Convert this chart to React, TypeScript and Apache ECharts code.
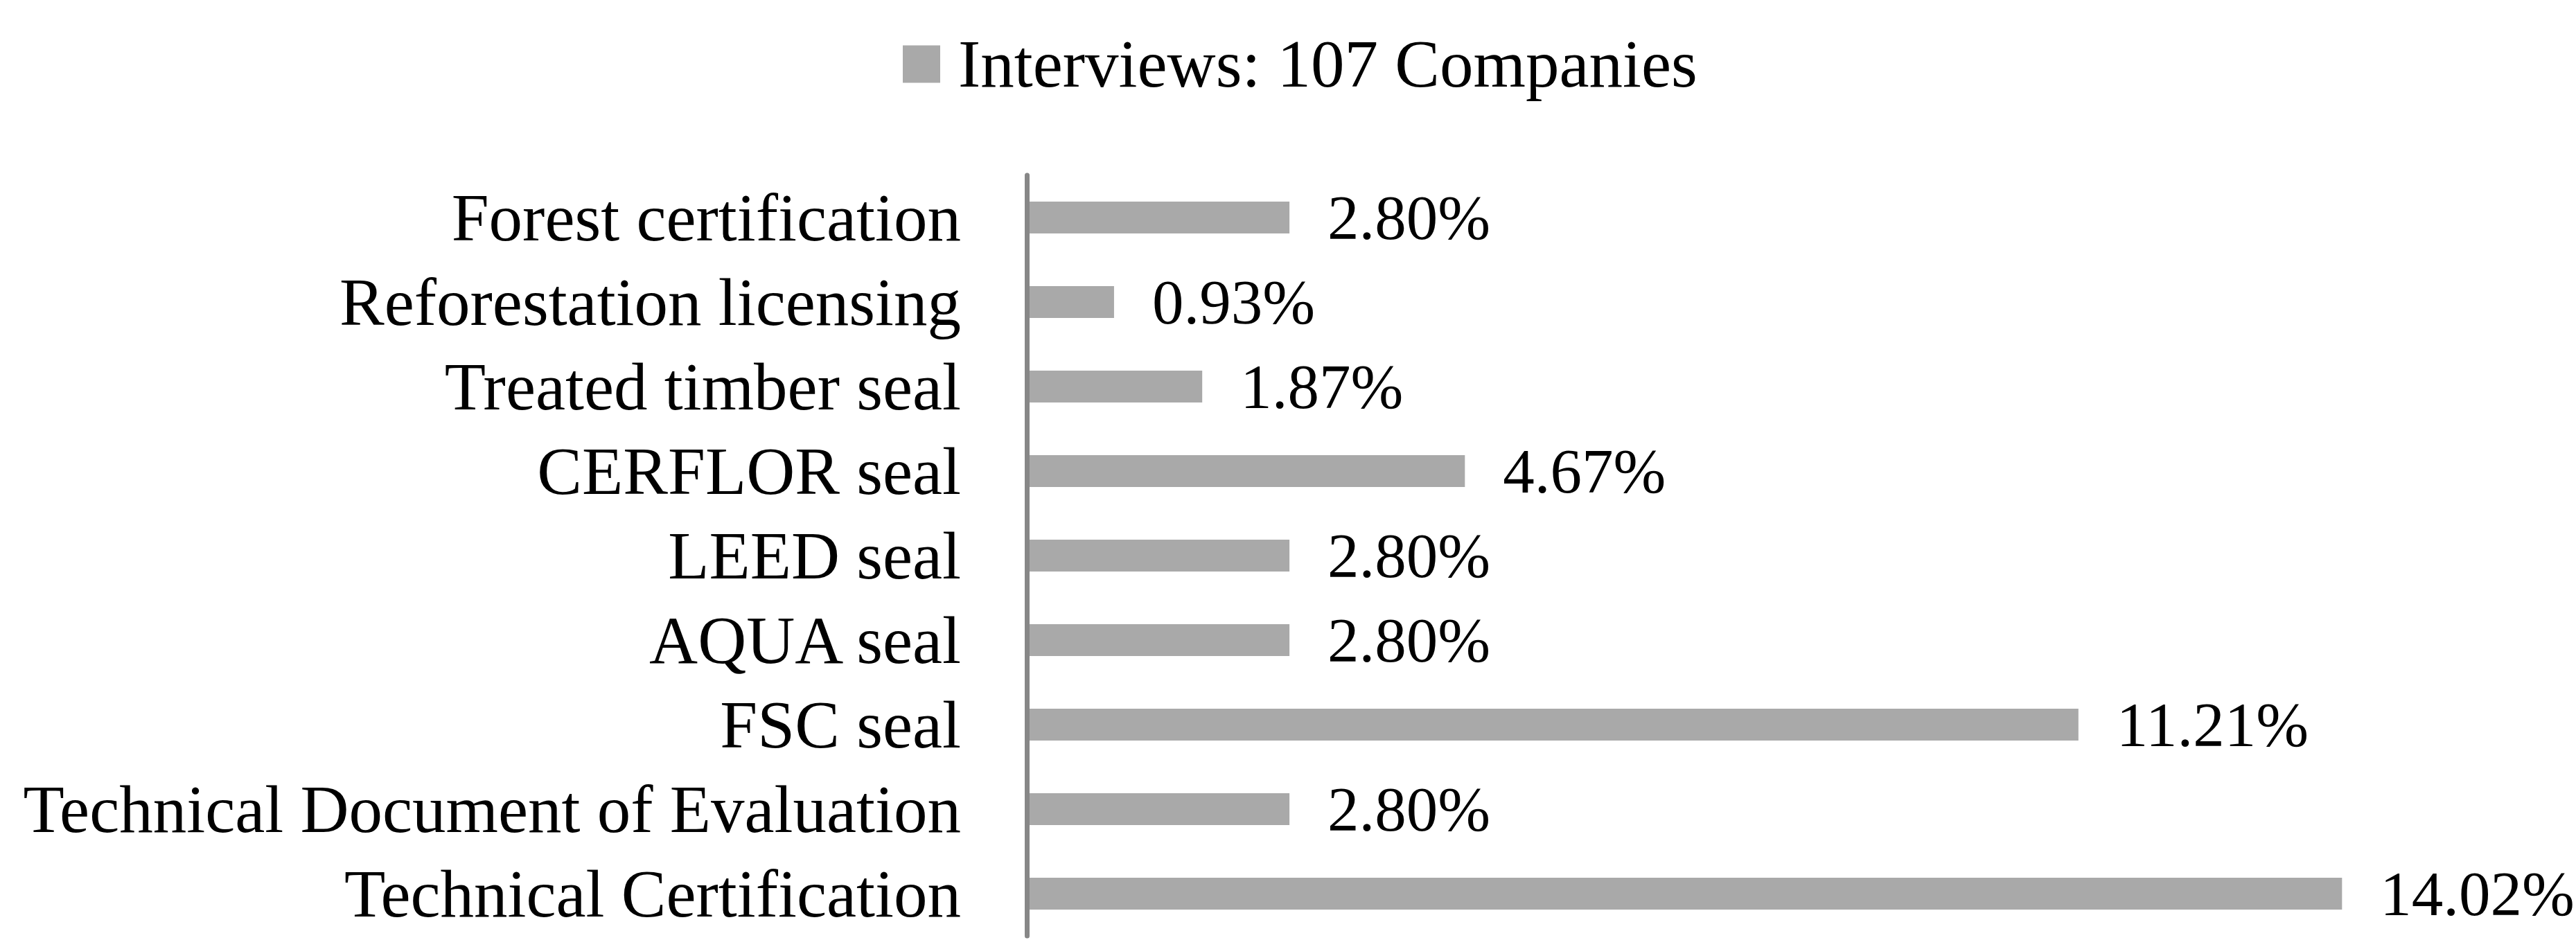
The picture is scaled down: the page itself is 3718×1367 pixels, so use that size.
import React, { useEffect, useRef } from "react";
import * as echarts from "echarts";

const categories = [
  "Forest certification",
  "Reforestation licensing",
  "Treated timber seal",
  "CERFLOR seal",
  "LEED seal",
  "AQUA seal",
  "FSC seal",
  "Technical Document of Evaluation",
  "Technical Certification",
];
const values = [2.8, 0.93, 1.87, 4.67, 2.8, 2.8, 11.21, 2.8, 14.02];
const seriesName = "Interviews: 107 Companies";

const FONT = "'Liberation Serif', 'Times New Roman', serif";

export default function App() {
  const ref = useRef<HTMLDivElement>(null);
  useEffect(() => {
    document.body.style.margin = "0";
    const chart = echarts.init(ref.current!, null, { renderer: "svg" });
    chart.setOption({
      animation: false,
      backgroundColor: "#ffffff",
      legend: {
        data: [seriesName],
        top: 39,
        left: 1298,
        itemWidth: 54,
        itemHeight: 54,
        icon: "rect",
        textStyle: { fontFamily: FONT, fontSize: 97, color: "#000", padding: [0, 0, 0, 21] },
      },
      grid: { left: 1482, right: 205, top: 253, bottom: 16, containLabel: false },
      xAxis: {
        type: "value",
        min: 0,
        max: 15,
        show: false,
        splitLine: { show: false },
      },
      yAxis: {
        type: "category",
        data: categories,
        inverse: true,
        z: 10,
        axisLine: { show: true, lineStyle: { color: "#878787", width: 7 } },
        axisTick: { show: false },
        axisLabel: {
          interval: 0,
          hideOverlap: false,
          fontFamily: FONT,
          fontSize: 97,
          color: "#000",
          margin: 95,
        },
      },
      series: [
        {
          name: seriesName,
          type: "bar",
          data: values,
          barWidth: 46,
          itemStyle: { color: "#a9a9a9" },
          label: {
            show: true,
            position: "right",
            distance: 55,
            fontFamily: FONT,
            fontSize: 91,
            color: "#000",
            formatter: (p: any) => p.value.toFixed(2) + "%",
          },
        },
      ],
    });
    return () => chart.dispose();
  }, []);
  return <div ref={ref} style={{ width: 3718, height: 1367 }} />;
}
